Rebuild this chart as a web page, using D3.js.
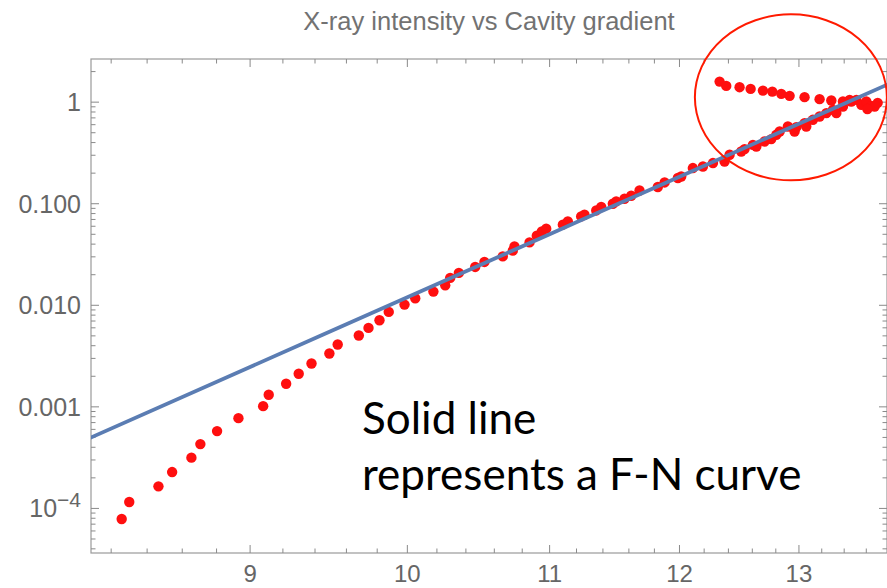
<!DOCTYPE html>
<html>
<head>
<meta charset="utf-8">
<script src="https://cdn.jsdelivr.net/npm/d3@7"></script>
<style>
  body { margin: 0; background: #fff; }
  svg { display: block; }
</style>
</head>
<body>
<svg id="chart" width="887" height="588"></svg>
<script>
// Cavity gradient (MV/m) and measured X-ray intensity, rising branch
const gradient = [8.258, 8.30, 8.464, 8.542, 8.653, 8.705, 8.803, 8.930, 9.079, 9.113,
  9.220, 9.298, 9.378, 9.491, 9.544, 9.680, 9.743, 9.815, 9.876, 9.981,
  10.053, 10.176, 10.257, 10.291, 10.351, 10.465, 10.530, 10.660, 10.732, 10.744,
  10.853, 10.906, 10.943, 10.975, 11.098, 11.135, 11.235, 11.260, 11.349, 11.387,
  11.476, 11.502, 11.566, 11.618, 11.683, 11.827, 11.881, 11.987, 12.014, 12.108,
  12.190, 12.272, 12.368, 12.410, 12.507, 12.535, 12.605, 12.634, 12.704, 12.761,
  12.804, 12.833, 12.904, 12.962, 12.977, 13.049, 13.064, 13.122, 13.181, 13.241,
  13.299, 13.330, 13.389, 13.464, 13.510, 13.555, 13.600, 13.646, 13.676, 13.61, 13.704];
const intensity = [7.87e-5, 1.156e-4, 1.65e-4, 2.28e-4, 3.16e-4, 4.30e-4, 5.77e-4, 7.74e-4, 1.016e-3, 1.315e-3,
  1.688e-3, 2.116e-3, 2.672e-3, 3.35e-3, 4.11e-3, 5.04e-3, 5.99e-3, 7.12e-3, 8.61e-3, 1.016e-2,
  1.172e-2, 1.364e-2, 1.573e-2, 1.860e-2, 2.083e-2, 2.385e-2, 2.672e-2, 3.03e-2, 3.45e-2, 3.80e-2,
  4.16e-2, 4.85e-2, 5.34e-2, 5.68e-2, 6.22e-2, 6.70e-2, 7.50e-2, 7.79e-2, 8.59e-2, 9.28e-2,
  0.100, 0.1053, 0.1120, 0.1199, 0.1351, 0.146, 0.162, 0.179, 0.1855, 0.2244,
  0.2327, 0.2513, 0.2606, 0.3032, 0.3267, 0.345, 0.380, 0.366, 0.410, 0.4327,
  0.477, 0.514, 0.5755, 0.514, 0.5677, 0.6216, 0.5755, 0.670, 0.722, 0.780,
  0.840, 0.780, 0.905, 1.014, 1.053, 0.941, 1.014, 0.920, 0.905, 0.857, 0.984];

// Ramp-down branch (circled)
const downGradient = [12.327, 12.382, 12.493, 12.586, 12.690, 12.770, 12.847, 12.919, 13.049, 13.181, 13.285, 13.389, 13.449];
const downIntensity = [1.594, 1.446, 1.404, 1.351, 1.300, 1.271, 1.207, 1.153, 1.120, 1.070, 1.037, 1.014, 1.053];

// Fowler-Nordheim fit curve
const fnGradient = [8.0, 9.0, 10.0, 11.0, 12.0, 13.0, 13.8];
const fnIntensity = [4.22e-4, 2.47e-3, 0.0120, 0.0501, 0.1847, 0.613, 1.50];

// Axis ticks and labels
const xTicks = [9, 10, 11, 12, 13];
const xMinor = [8.2, 8.4, 8.6, 8.8, 9.2, 9.4, 9.6, 9.8, 10.2, 10.4, 10.6, 10.8,
  11.2, 11.4, 11.6, 11.8, 12.2, 12.4, 12.6, 12.8, 13.2, 13.4, 13.6];
const yTicks = [1e-4, 1e-3, 1e-2, 1e-1, 1];
const yTickLabels = ["10^-4", "0.001", "0.010", "0.100", "1"];

const titleText = "X-ray intensity vs Cavity gradient";
const noteLines = ["Solid line", "represents a F-N curve"];

const W = 887, H = 588;
const plot = { left: 91, right: 887, top: 59, bottom: 553 };

const svg = d3.select("#chart");
svg.append("rect").attr("width", W).attr("height", H).attr("fill", "#fff");

const x = d3.scaleLog().domain([8.09, 13.79]).range([plot.left, plot.right]);
const y = d3.scaleLog().domain([3.64e-5, 2.66]).range([plot.bottom, plot.top]);

// minor y ticks: 2..9 within each decade in range
const yMinor = [];
for (let e = -5; e <= 0; e++) {
  for (let k = 2; k <= 9; k++) {
    const v = k * Math.pow(10, e);
    if (v > y.domain()[0] && v < y.domain()[1]) yMinor.push(v);
  }
}

const frameColor = "#9a9a9a";
const tickColor = "#8a8a8a";
const labelColor = "#666";

// frame
svg.append("rect")
  .attr("x", plot.left).attr("y", plot.top)
  .attr("width", plot.right - plot.left).attr("height", plot.bottom - plot.top)
  .attr("fill", "none").attr("stroke", frameColor).attr("stroke-width", 1.2);

const ticks = svg.append("g").attr("stroke", tickColor).attr("stroke-width", 1);

// bottom & top ticks (pointing inward)
function xTickMarks(vals, len) {
  vals.forEach(v => {
    const px = x(v);
    ticks.append("line").attr("x1", px).attr("x2", px)
      .attr("y1", plot.bottom).attr("y2", plot.bottom - len);
    ticks.append("line").attr("x1", px).attr("x2", px)
      .attr("y1", plot.top).attr("y2", plot.top + len);
  });
}
xTickMarks(xTicks, 8);
xTickMarks(xMinor, 4.5);

// left & right ticks
function yTickMarks(vals, len) {
  vals.forEach(v => {
    const py = y(v);
    ticks.append("line").attr("x1", plot.left).attr("x2", plot.left + len)
      .attr("y1", py).attr("y2", py);
    ticks.append("line").attr("x1", plot.right).attr("x2", plot.right - len)
      .attr("y1", py).attr("y2", py);
  });
}
yTickMarks(yTicks, 8);
yTickMarks(yMinor.filter(v => !yTicks.includes(v)), 4.5);

// x tick labels
svg.append("g").selectAll("text").data(xTicks).join("text")
  .attr("x", d => x(d)).attr("y", 582)
  .attr("text-anchor", "middle")
  .attr("font-family", "Liberation Sans, Arial, sans-serif")
  .attr("font-size", 24).attr("fill", labelColor)
  .text(d => d);

// y tick labels
const yLab = svg.append("g")
  .attr("font-family", "Liberation Sans, Arial, sans-serif")
  .attr("font-size", 25).attr("fill", labelColor);
yTicks.forEach((v, i) => {
  const lbl = yTickLabels[i];
  const t = yLab.append("text")
    .attr("x", 81).attr("y", y(v) + 9)
    .attr("text-anchor", "end");
  if (lbl.includes("^")) {
    const [base, exp] = lbl.split("^");
    t.append("tspan").text(base);
    t.append("tspan").attr("dy", -10).attr("font-size", 21)
      .text(exp.replace("-", "\u2212"));
  } else {
    t.text(lbl);
  }
});

// clip region for data
svg.append("clipPath").attr("id", "plotClip")
  .append("rect").attr("x", plot.left).attr("y", plot.top - 8)
  .attr("width", plot.right - plot.left).attr("height", plot.bottom - plot.top + 8);

const dataG = svg.append("g").attr("clip-path", "url(#plotClip)");

const pts = gradient.map((g, i) => ({ g, v: intensity[i] }))
  .concat(downGradient.map((g, i) => ({ g, v: downIntensity[i] })));

dataG.append("g").selectAll("circle").data(pts).join("circle")
  .attr("cx", d => x(d.g)).attr("cy", d => y(d.v))
  .attr("r", 5.2).attr("fill", "#ff0f0f");

const fnPts = fnGradient.map((g, i) => ({ g, v: fnIntensity[i] }));
dataG.append("path")
  .datum(fnPts)
  .attr("d", d3.line().x(d => x(d.g)).y(d => y(d.v)).curve(d3.curveMonotoneX))
  .attr("fill", "none").attr("stroke", "#5b7db3").attr("stroke-width", 3.8);

// title
svg.append("text")
  .attr("x", (plot.left + plot.right) / 2).attr("y", 30)
  .attr("text-anchor", "middle")
  .attr("font-family", "Liberation Sans, Arial, sans-serif")
  .attr("font-size", 25.5).attr("fill", "#727272")
  .text(titleText);

// annotation ellipse around the ramp-down branch
svg.append("ellipse")
  .attr("cx", x(12.93)).attr("cy", y(1.115))
  .attr("rx", 96).attr("ry", 83)
  .attr("fill", "none").attr("stroke", "#ff1a00").attr("stroke-width", 2);

// note text
const note = svg.append("text")
  .attr("font-family", "Lato, 'Open Sans', sans-serif")
  .attr("font-size", 44).attr("fill", "#000");
noteLines.forEach((line, i) => {
  note.append("tspan").attr("x", 362).attr("y", 434 + i * 56).text(line);
});
</script>
</body>
</html>
